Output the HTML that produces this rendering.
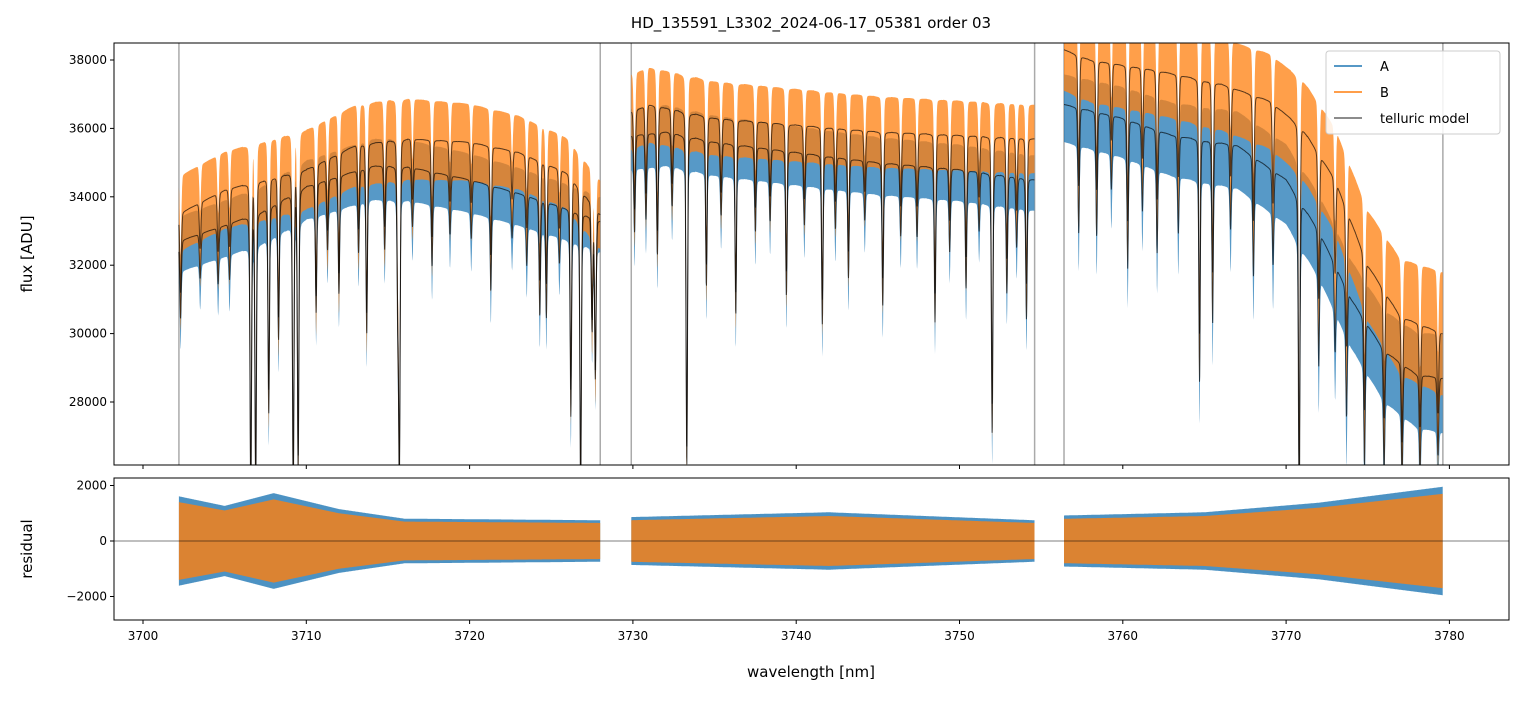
<!DOCTYPE html>
<html><head><meta charset="utf-8">
<style>
body{margin:0;background:#fff;font-family:"Liberation Sans",sans-serif;}
svg text{font-family:"DejaVu Sans","Liberation Sans",sans-serif;}
</style></head>
<body>
<svg id="chart" width="1523" height="696" viewBox="0 0 1523 696" xmlns="http://www.w3.org/2000/svg">
<defs>
<clipPath id="clipTop"><rect x="114" y="43" width="1395" height="422"/></clipPath>
<clipPath id="clipBot"><rect x="114" y="478" width="1395" height="142"/></clipPath>
</defs>
<rect width="1523" height="696" fill="#fff"/>
<text x="811" y="28" font-size="15" text-anchor="middle">HD_135591_L3302_2024-06-17_05381  order 03</text>
<g id="gtop" clip-path="url(#clipTop)"></g>
<g id="gbot" clip-path="url(#clipBot)"></g>
<g id="gaxes"></g>
<text transform="translate(32,254) rotate(-90)" font-size="15" text-anchor="middle">flux [ADU]</text>
<text transform="translate(32,549) rotate(-90)" font-size="15" text-anchor="middle">residual</text>
<text x="811" y="677" font-size="15" text-anchor="middle">wavelength [nm]</text>
<g>
<rect x="1326" y="51" width="174" height="83" fill="#fff" fill-opacity="0.85" stroke="#ccc" rx="3"/>
<g><line x1="1334" y1="66" x2="1362" y2="66" stroke="#1f77b4" stroke-width="1.5"/><text x="1380" y="71" font-size="13">A</text></g>
<g><line x1="1334" y1="92" x2="1362" y2="92" stroke="#ff7f0e" stroke-width="1.5"/><text x="1380" y="97" font-size="13">B</text></g>
<g><line x1="1334" y1="118" x2="1362" y2="118" stroke="#666" stroke-width="1.5"/><text x="1380" y="123" font-size="13">telluric model</text></g>
</g>
</svg>
<script>
const NS="http://www.w3.org/2000/svg";
// ---- data ----
const segments=[[3702.2,3728.0],[3729.9,3754.6],[3756.4,3779.6]];
const contA=[[3702.2,32700],[3704,33000],[3707,33500],[3710,34300],[3714,34900],[3716,34900],[3720,34500],[3723,34100],[3727,33500],[3728,33300],
 [3729.9,35800],[3732,35900],[3735,35600],[3740,35300],[3745,35000],[3750,34800],[3754.6,34500],
 [3756.4,36700],[3760,36300],[3763,35800],[3767,35500],[3770,34500],[3772,33000],[3774,31000],[3776,29500],[3778,28800],[3779.6,28700]];
const contB=[[3702.2,33500],[3705,34200],[3710,34800],[3713,35500],[3716,35700],[3720,35600],[3723,35300],[3726,34700],[3728,33500],
 [3729.9,36500],[3731,36700],[3735,36300],[3740,36100],[3745,35900],[3750,35800],[3754.6,35700],
 [3756.4,38300],[3758,38000],[3762,37700],[3766,37300],[3769,36800],[3771,36000],[3773,34500],[3775,32000],[3777,30500],[3779.6,30000]];
const lineCenters=[3702.3,3703.5,3704.6,3705.3,3706.6,3706.9,3707.7,3708.3,3709.2,3709.5,3710.6,3711.3,3712.0,3713.2,3713.7,3714.8,3715.6,3715.7,3716.5,3717.7,3718.8,3720.1,3721.3,3722.6,3723.5,3724.3,3724.7,3725.5,3726.2,3726.8,3727.5,3727.7,
 3730.1,3730.8,3731.5,3732.4,3733.3,3734.5,3735.4,3736.3,3737.5,3738.4,3739.4,3740.5,3741.6,3742.4,3743.2,3744.2,3745.3,3746.4,3747.4,3748.5,3749.4,3750.4,3751.2,3752.0,3752.9,3753.5,3754.1,
 3757.3,3758.4,3759.3,3760.3,3761.2,3762.1,3763.4,3764.7,3765.5,3766.6,3768.0,3769.2,3770.8,3772.0,3773.0,3773.7,3774.8,3776.0,3777.1,3778.2,3779.3];
const lineDepths=[0.07,0.04,0.05,0.05,0.26,0.25,0.18,0.12,0.26,0.24,0.11,0.06,0.1,0.07,0.14,0.07,0.12,0.26,0.05,0.08,0.05,0.05,0.09,0.04,0.06,0.1,0.1,0.05,0.18,0.25,0.1,0.14,
 0.08,0.07,0.1,0.06,0.27,0.12,0.06,0.14,0.07,0.06,0.12,0.06,0.14,0.06,0.1,0.05,0.12,0.06,0.06,0.13,0.07,0.1,0.05,0.22,0.1,0.06,0.12,
 0.1,0.1,0.06,0.12,0.07,0.1,0.08,0.2,0.15,0.07,0.1,0.08,0.28,0.12,0.08,0.12,0.14,0.12,0.12,0.1,0.08];
const noiseA=[[3702.2,900],[3715,1000],[3728,900],[3729.9,1000],[3754.6,900],[3756.4,1100],[3770,1300],[3779.6,1600]];
const noiseB=[[3702.2,1100],[3715,1200],[3728,1000],[3729.9,1100],[3754.6,1000],[3756.4,1200],[3770,1400],[3779.6,1800]];
const residAmp=[[3702.2,1400],[3705,1100],[3708,1500],[3712,1000],[3716,700],[3728,650],[3729.9,750],[3742,900],[3754.6,650],[3756.4,800],[3765,900],[3772,1200],[3779.6,1700]];
const xTicks=[3700,3710,3720,3730,3740,3750,3760,3770,3780];
const yTicksTop=[28000,30000,32000,34000,36000,38000];
const yTicksBot=[-2000,0,2000];
// ---- scales ----
const X=v=>143+(v-3700)*16.33;
const YT=v=>60+(38000-v)*0.0342;
const YB=v=>541-v*0.02775;
function interp(arr,x){for(let i=0;i<arr.length-1;i++){if(x>=arr[i][0]&&x<=arr[i+1][0]){const t=(x-arr[i][0])/(arr[i+1][0]-arr[i][0]);return arr[i][1]+t*(arr[i+1][1]-arr[i][1]);}}return x<arr[0][0]?arr[0][1]:arr[arr.length-1][1];}
function absorb(x){let f=1;for(let i=0;i<lineCenters.length;i++){const dx=x-lineCenters[i];if(Math.abs(dx)<0.5){const g=Math.exp(-0.5*(dx/0.05)**2),l=1/(1+(dx/0.04)**2);f*=1-lineDepths[i]*(0.75*g+0.25*l);}}return f;}
function el(tag,attrs,parent){const e=document.createElementNS(NS,tag);for(const k in attrs)e.setAttribute(k,attrs[k]);parent.appendChild(e);return e;}
const gTop=document.getElementById('gtop'),gBot=document.getElementById('gbot'),gAxes=document.getElementById('gaxes');
const step=0.015;
function bandPath(cont,noise,yf,fx,upF,loF){let up=[];for(const s of segments){let u=[],l=[];for(let x=s[0];x<=s[1]+1e-9;x+=step){const m=fx(cont,x),a=interp(noise,x);u.push(X(x).toFixed(1)+','+yf(m+a*upF).toFixed(1));l.push(X(x).toFixed(1)+','+yf(m-a*loF).toFixed(1));}up.push('M'+u.join('L')+'L'+l.reverse().join('L')+'Z');}return up.join('');}
function linePath(cont,yf){let p=[];for(const s of segments){let pts=[];for(let x=s[0];x<=s[1]+1e-9;x+=step){pts.push(X(x).toFixed(1)+','+yf(interp(cont,x)*absorb(x)).toFixed(1));}p.push('M'+pts.join('L'));}return p.join('');}
const modelF=(c,x)=>interp(c,x)*absorb(x);
for(const s of segments){for(const e of s){const v=el('line',{x1:X(e),x2:X(e),y1:43,y2:465,stroke:'#aaa','stroke-width':1.5},gTop);

}}
const bA=el('path',{d:bandPath(contA,noiseA,YT,modelF,0.8,1.0),fill:'#1f77b4','fill-opacity':0.75},gTop);


const bB=el('path',{d:bandPath(contB,noiseB,YT,modelF,1.0,1.0),fill:'#ff7f0e','fill-opacity':0.75},gTop);


const mB=el('path',{d:linePath(contB,YT),fill:'none',stroke:'#000','stroke-opacity':0.65,'stroke-width':1},gTop);


const mA=el('path',{d:linePath(contA,YT),fill:'none',stroke:'#000','stroke-opacity':0.65,'stroke-width':1},gTop);


const zero=[[3700,0],[3790,0]];
const rA=el('path',{d:bandPath(zero,residAmp,YB,(c,x)=>0,1.15,1.15),fill:'#1f77b4','fill-opacity':0.8},gBot);


const rB=el('path',{d:bandPath(zero,residAmp,YB,(c,x)=>0,1.0,1.0),fill:'#ff7f0e','fill-opacity':0.8},gBot);


el('line',{x1:114,x2:1509,y1:YB(0),y2:YB(0),stroke:'#000','stroke-width':0.6},gBot);
el('rect',{x:114,y:43,width:1395,height:422,fill:'none',stroke:'#000','stroke-width':1},gAxes);
el('rect',{x:114,y:478,width:1395,height:142,fill:'none',stroke:'#000','stroke-width':1},gAxes);
for(const t of xTicks){el('line',{x1:X(t),x2:X(t),y1:465,y2:469,stroke:'#000'},gAxes);el('line',{x1:X(t),x2:X(t),y1:620,y2:624,stroke:'#000'},gAxes);
const tx=el('text',{x:X(t),y:640,'font-size':12,'text-anchor':'middle'},gAxes);tx.textContent=t;

}
for(const t of yTicksTop){el('line',{x1:110,x2:114,y1:YT(t),y2:YT(t),stroke:'#000'},gAxes);
const tx=el('text',{x:107,y:YT(t)+4,'font-size':12,'text-anchor':'end'},gAxes);tx.textContent=t;

}
for(const t of yTicksBot){el('line',{x1:110,x2:114,y1:YB(t),y2:YB(t),stroke:'#000'},gAxes);
const tx=el('text',{x:107,y:YB(t)+4,'font-size':12,'text-anchor':'end'},gAxes);tx.textContent=(t<0?'\u2212'+(-t):t);

}
</script>
</body></html>
